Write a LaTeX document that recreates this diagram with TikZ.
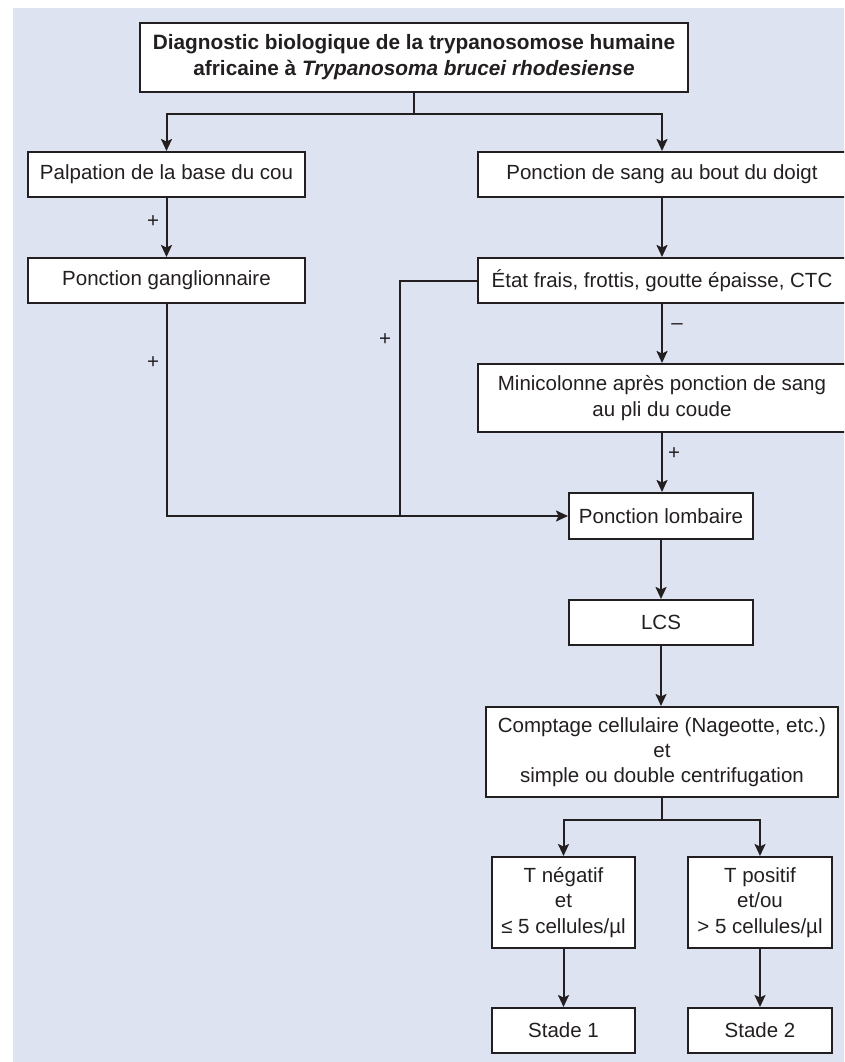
\documentclass[tikz,border=0pt]{standalone}
\usepackage{fontspec}
\setmainfont{Liberation Sans}
\usetikzlibrary{arrows.meta,calc}
\definecolor{bgblue}{RGB}{222,227,241}
\definecolor{ink}{RGB}{35,31,32}
\begin{document}
\begin{tikzpicture}[x=1pt,y=-1pt,
  every node/.style={font=\fontsize{20.5}{25.3}\selectfont, text=ink},
  box/.style={draw=ink, fill=white, line width=2pt, inner sep=0pt, align=center},
  conn/.style={draw=ink, line width=2pt},
  arr/.style={conn, -{Stealth[length=12pt,width=11pt,inset=2.5pt]}},
  lbl/.style={inner sep=0pt, font=\fontsize{20.5}{22}\selectfont}
]
\useasboundingbox (0,0) rectangle (844,1062);
\clip (0,0) rectangle (844,1062);
\fill[bgblue] (13,8) rectangle (846,1064);

\node[box, minimum width=548pt, minimum height=69pt, font=\fontsize{20.8}{26}\selectfont\bfseries] (title) at (414,57.5)
  {Diagnostic biologique de la trypanosomose humaine\\africaine à \textit{Trypanosoma brucei rhodesiense}};
\node[box, minimum width=277pt, minimum height=45pt] (palp) at (166.5,174.5) {Palpation de la base du cou};
\node[box, minimum width=368pt, minimum height=45pt] (sang) at (662,174.5) {Ponction de sang au bout du doigt};
\node[box, minimum width=277pt, minimum height=45pt] (gang) at (166.5,280.5) {Ponction ganglionnaire};
\node[box, minimum width=368pt, minimum height=45pt] (etat) at (662,280.5) {État frais, frottis, goutte épaisse, CTC};
\node[box, minimum width=368pt, minimum height=68pt] (mini) at (662,398) {Minicolonne après ponction de sang\\au pli du coude};
\node[box, minimum width=184pt, minimum height=46pt] (lomb) at (661,516) {Ponction lombaire};
\node[box, minimum width=184pt, minimum height=45pt] (lcs) at (661,622.5) {LCS};
\node[box, minimum width=352pt, minimum height=90pt] (compt) at (662,752) {Comptage cellulaire (Nageotte, etc.)\\et\\simple ou double centrifugation};
\node[box, minimum width=143pt, minimum height=91pt] (tneg) at (563.5,902.5) {T négatif\\et\\≤ 5 cellules/µl};
\node[box, minimum width=144pt, minimum height=91pt] (tpos) at (760,902.5) {T positif\\et/ou\\> 5 cellules/µl};
\node[box, minimum width=143pt, minimum height=45pt] (st1) at (563.5,1030.5) {Stade 1};
\node[box, minimum width=144pt, minimum height=45pt] (st2) at (760,1030.5) {Stade 2};

% title branches
\coordinate (tb) at (414,114);
\draw[conn] (title.south) -- (tb);
\draw[arr] (tb) -| (palp.north);
\draw[arr] (tb) -| (sang.north);

\draw[arr] (palp.south) -- (gang.north);
\draw[arr] (sang.south) -- (etat.north);
\draw[arr] (etat.south) -- (mini.north);
\draw[arr] (mini.south) -- (mini.south |- lomb.north);

\draw[arr] (gang.south) |- (lomb.west);
\coordinate (j) at (400,516);
\draw[conn] (etat.west) -| (j);

\draw[arr] (lomb.south) -- (lcs.north);
\draw[arr] (lcs.south) -- (lcs.south |- compt.north);

\coordinate (cb) at (662,820);
\draw[conn] (compt.south) -- (cb);
\draw[arr] (cb) -| (tneg.north);
\draw[arr] (cb) -| (tpos.north);

\draw[arr] (tneg.south) -- (st1.north);
\draw[arr] (tpos.south) -- (st2.north);

\node[lbl] (p1) at (153,222) {+};
\node[lbl] (p2) at (153,363) {+};
\node[lbl] (p3) at (385,340) {+};
\node[lbl] (m1) at (677,327) {–};
\node[lbl] (p4) at (674,454) {+};
\end{tikzpicture}
\end{document}
